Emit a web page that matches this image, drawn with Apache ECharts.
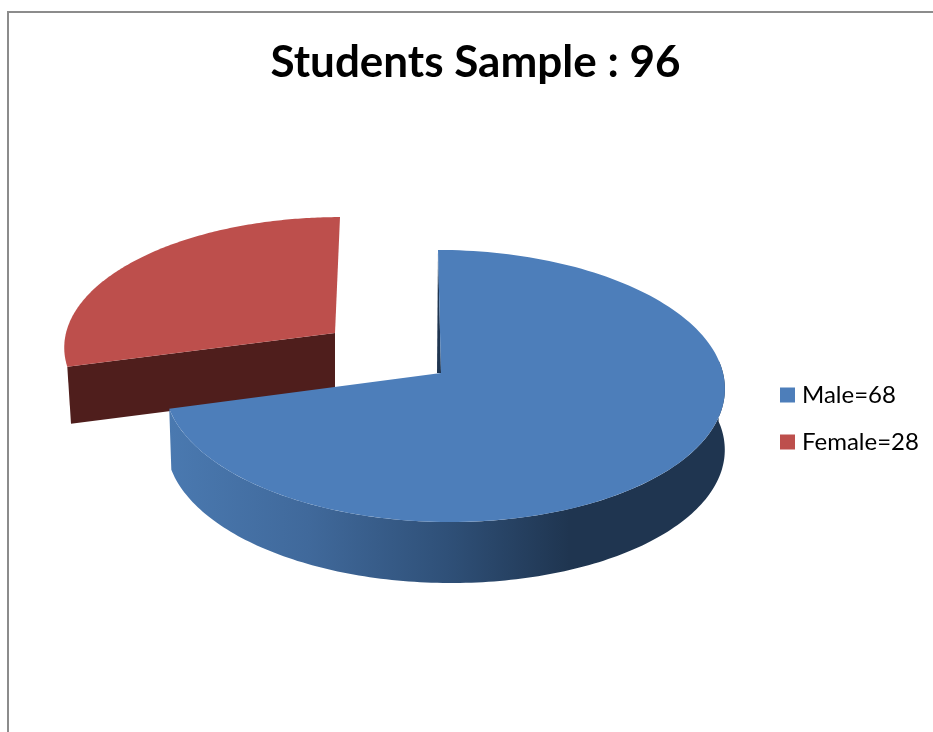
<!DOCTYPE html>
<html>
<head>
<meta charset="utf-8">
<title>Students Sample</title>
<script src="https://cdn.jsdelivr.net/npm/echarts@6/dist/echarts.min.js"></script>
<style>
  html, body { margin: 0; padding: 0; background: #fff; }
  #chart { width: 933px; height: 732px; }
</style>
</head>
<body>
<div id="chart"></div>
<script>
// Chart data
const categories = ['Male', 'Female'];
const values = [68, 28];
const sampleSize = 96;

// Slice colours: top face, and the wall shading stops from left to right
const topColors = ['#4d7eba', '#bd4f4c'];
const wallColors = [
  [[0, '#4a79b0'], [0.25, '#40699b'], [0.5, '#2f5078'], [0.72, '#1f3550'], [1, '#1f3550']],
  [[0, '#4f1e1c'], [1, '#4f1e1c']]
];

// Projection of each tilted disc. The red slice is pulled away from the centre.
// front: range of the rim (in units of pi) whose outer wall is drawn.
const discs = [
  { x0: 444, y0: 373, apexDx: -3, R: 279, Rs: 134.8, k: 0.0955, skew: 6, depth: 61, baseScale: 0.996, baseDx: 1, sliver: 4, front: [0.47, 1.53] },
  { x0: 335, y0: 333, apexDx: 0, R: 269, Rs: 127, k: 0.0955, skew: -5, depth: 57, baseScale: 0.986, baseDx: 0, sliver: 0, front: [0.47, 1.4] }
];
const total = values.reduce((a, b) => a + b, 0);
const STEPS = 160;

function project(d, theta, r, base) {
  const u = Math.sin(theta) * r, v = Math.cos(theta) * r;
  const p = 1 + d.k * v;
  const scale = base ? d.baseScale : 1;
  const x = d.x0 + (base ? d.baseDx : 0) + (d.R * scale * u) / p - d.skew * v;
  const y = d.y0 - (d.Rs * v) / p + (base ? d.depth : 0);
  return [x, y];
}

function apex(d, base) {
  const c = project(d, 0, 0, base);
  return [c[0] + d.apexDx, c[1]];
}

function arcPoints(d, a0, a1, base) {
  const pts = [];
  for (let i = 0; i <= STEPS; i++) {
    pts.push(project(d, a0 + ((a1 - a0) * i) / STEPS, 1, base));
  }
  return pts;
}

function renderSlice(params, api) {
  const i = params.seriesIndex;
  const d = discs[i];
  const start = api.value(0), val = api.value(1);
  const a0 = (start / total) * Math.PI * 2;
  const a1 = ((start + val) / total) * Math.PI * 2;
  const children = [];

  const wallFill = new echarts.graphic.LinearGradient(0, 0, 1, 0,
    wallColors[i].map(s => ({ offset: s[0], color: s[1] })));

  // Outer wall: only the front part of the rim faces the viewer
  const fa0 = Math.max(a0, Math.PI * d.front[0]), fa1 = Math.min(a1, Math.PI * d.front[1]);
  if (fa1 > fa0) {
    const rim = arcPoints(d, fa0, fa1, false);
    const base = arcPoints(d, fa0, fa1, true).reverse();
    children.push({ type: 'polygon', shape: { points: rim.concat(base) }, style: { fill: wallFill } });
  }

  // Cut wall along the slice's first radial edge
  if (d.sliver > 0) {
    const s = project(d, a0, 1, false), c = apex(d, false);
    children.push({
      type: 'polygon',
      shape: { points: [s, c, [c[0] - d.sliver, c[1]]] },
      style: { fill: '#1f3550' }
    });
  } else {
    children.push({
      type: 'polygon',
      shape: { points: [project(d, a0, 1, false), apex(d, false), apex(d, true), project(d, a0, 1, true)] },
      style: { fill: wallColors[i][0][1] }
    });
  }

  // Top face
  children.push({
    type: 'polygon',
    shape: { points: [apex(d, false)].concat(arcPoints(d, a0, a1, false)) },
    style: { fill: topColors[i] }
  });
  return { type: 'group', children };
}

let running = 0;
const series = categories.map((name, i) => {
  const item = [running, values[i]];
  running += values[i];
  return {
    type: 'custom',
    name: name + '=' + values[i],
    coordinateSystem: 'none',
    z: 5 - i,
    silent: true,
    itemStyle: { color: topColors[i] },
    renderItem: renderSlice,
    data: [item]
  };
});

const chart = echarts.init(document.getElementById('chart'), null, { renderer: 'canvas' });
chart.setOption({
  animation: false,
  backgroundColor: '#fff',
  title: {
    text: 'Students Sample : ' + sampleSize,
    left: 476,
    top: 36,
    textAlign: 'center',
    textStyle: { fontFamily: 'Lato', fontWeight: 'bold', fontSize: 44, color: '#000' }
  },
  legend: {
    orient: 'vertical',
    left: 780,
    top: 383,
    icon: 'rect',
    itemWidth: 15,
    itemHeight: 15,
    itemGap: 23,
    padding: 0,
    selectedMode: false,
    textStyle: { fontFamily: 'Lato', fontSize: 24, color: '#000', padding: [0, 0, 0, 2] },
    data: series.map(s => s.name)
  },
  graphic: [
    { type: 'line', silent: true, shape: { x1: 7, y1: 12, x2: 933, y2: 12 }, style: { stroke: '#8c8c8c', lineWidth: 2 } },
    { type: 'line', silent: true, shape: { x1: 8, y1: 12, x2: 8, y2: 732 }, style: { stroke: '#8c8c8c', lineWidth: 2 } }
  ],
  series
});
// The title is placed by its visual centre after the first layout
chart.setOption({ title: { left: 470.5 } });
</script>
</body>
</html>
